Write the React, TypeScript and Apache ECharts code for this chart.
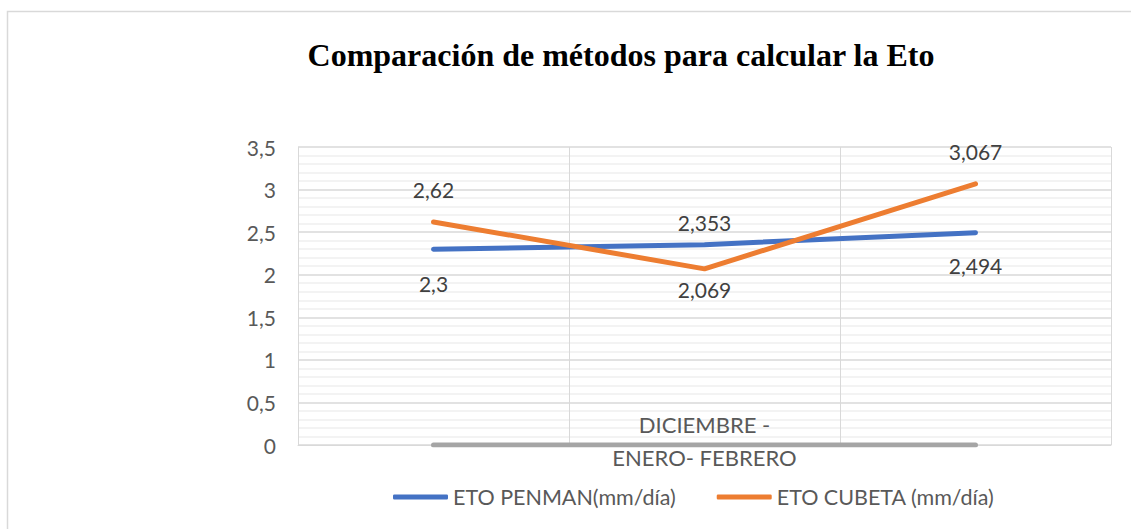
import React, { useEffect, useRef } from "react";
import * as echarts from "echarts";

const categories = ["", "DICIEMBRE -\nENERO- FEBRERO", ""];
const penman = [2.3, 2.353, 2.494];
const cubeta = [2.62, 2.069, 3.067];
const baseline = [0, 0, 0];
const penmanLabelPos = ["bottom", "top", "bottom"];
const cubetaLabelPos = ["top", "bottom", "top"];
const penmanLabelDist = [24, 12, 22];
const cubetaLabelDist = [22, 10, 22];
const yTicks = [0, 0.5, 1, 1.5, 2, 2.5, 3, 3.5];

const fmt = (v: number) => String(v).replace(".", ",");
const FONT = "Lato, 'Open Sans', sans-serif";

export default function App() {
  const ref = useRef<HTMLDivElement>(null);
  useEffect(() => {
    if (!ref.current) return;
    const chart = echarts.init(ref.current, null, { renderer: "svg" });
    const mk = (vals: number[], pos: string[], dist: number[]) =>
      vals.map((v, i) => ({
        value: v,
        label: { show: true, position: pos[i], distance: dist[i] },
      }));
    const labelStyle = {
      show: true,
      fontFamily: FONT,
      fontSize: 21,
      color: "#404040",
      formatter: (p: any) => fmt(p.value),
    };
    chart.setOption({
      animation: false,
      backgroundColor: "#ffffff",
      title: {
        text: "Comparación de métodos para calcular la Eto",
        left: 616,
        top: 34,
        textAlign: "center",
        textStyle: {
          fontFamily: "'Liberation Serif', 'Times New Roman', serif",
          fontWeight: "bold",
          fontSize: 32,
          color: "#000000",
        },
      },
      graphic: [
        {
          type: "rect",
          shape: { x: 7.5, y: 11.5, width: 1200, height: 600 },
          style: { fill: "none", stroke: "#d9d9d9", lineWidth: 1.5 },
          silent: true,
        },
      ],
      legend: {
        data: ["ETO PENMAN(mm/día)", "ETO CUBETA (mm/día)"],
        left: 393,
        top: 486,
        padding: 0,
        icon: "roundRect",
        itemWidth: 55,
        itemHeight: 5,
        itemGap: 41,
        textStyle: { fontFamily: FONT, fontSize: 21.5, color: "#595959" },
      },
      grid: { left: 298, top: 147, width: 813, height: 298, containLabel: false },
      xAxis: {
        type: "category",
        data: categories,
        boundaryGap: true,
        axisLine: { show: true, lineStyle: { color: "#d9d9d9", width: 1 } },
        axisTick: { show: false },
        splitLine: { show: true, lineStyle: { color: "#d9d9d9", width: 1 } },
        axisLabel: {
          interval: 0,
          margin: -4,
          verticalAlign: "middle",
          lineHeight: 33,
          fontFamily: FONT,
          fontSize: 22,
          color: "#595959",
        },
      },
      yAxis: {
        type: "value",
        min: yTicks[0],
        max: yTicks[yTicks.length - 1],
        interval: 0.5,
        axisLine: { show: false },
        axisTick: { show: false },
        axisLabel: {
          margin: 22,
          fontFamily: FONT,
          fontSize: 21,
          color: "#595959",
          formatter: (v: number) => fmt(v),
        },
        splitLine: { show: true, lineStyle: { color: "#d9d9d9", width: 1.5 } },
        minorTick: { show: false, splitNumber: 5 },
        minorSplitLine: { show: true, lineStyle: { color: "#efefef", width: 1.5 } },
      },
      series: [
        {
          name: "ETO PENMAN(mm/día)",
          type: "line",
          data: mk(penman, penmanLabelPos, penmanLabelDist),
          symbol: "circle",
          symbolSize: 0.1,
          showSymbol: true,
          lineStyle: { color: "#4472c4", width: 5, cap: "round" },
          itemStyle: { color: "#4472c4" },
          label: labelStyle,
          z: 3,
        },
        {
          name: "ETO CUBETA (mm/día)",
          type: "line",
          data: mk(cubeta, cubetaLabelPos, cubetaLabelDist),
          symbol: "circle",
          symbolSize: 0.1,
          showSymbol: true,
          lineStyle: { color: "#ed7d31", width: 5, cap: "round" },
          itemStyle: { color: "#ed7d31" },
          label: labelStyle,
          z: 4,
        },
        {
          name: "base",
          type: "line",
          data: baseline,
          symbol: "none",
          lineStyle: { color: "#a5a5a5", width: 5, cap: "round" },
          itemStyle: { color: "#a5a5a5" },
          z: 2,
        },
      ],
    });
    return () => chart.dispose();
  }, []);
  return (
    <div
      ref={ref}
      style={{ position: "absolute", left: 0, top: 0, width: 1131, height: 529 }}
    />
  );
}
